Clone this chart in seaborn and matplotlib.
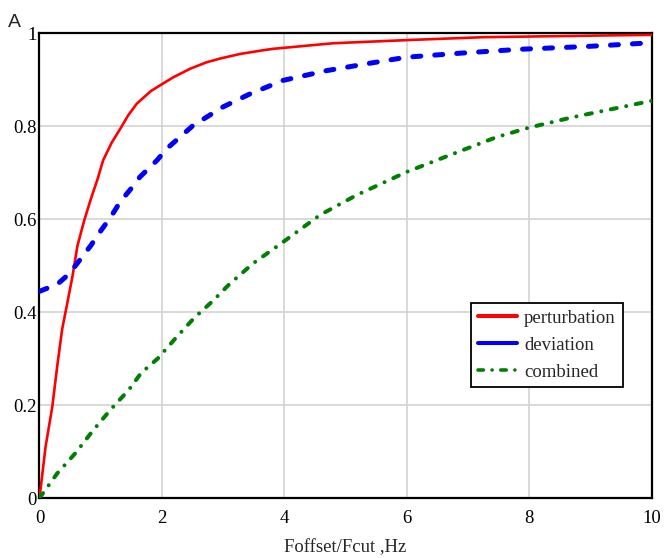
import matplotlib
matplotlib.use("Agg")
from matplotlib import pyplot as plt
from matplotlib.ticker import FuncFormatter
import seaborn as sns

# values
pert_x = [0, 0.1, 0.21, 0.29, 0.37, 0.44, 0.54, 0.62, 0.73, 0.84, 0.95, 1.04, 1.18,
          1.32, 1.45, 1.59, 1.82, 1.99, 2.19, 2.46, 2.73, 2.95, 3.28, 3.66, 3.82,
          4.8, 6.05, 7.25, 9.37, 10]
pert_y = [0, 0.111, 0.197, 0.284, 0.363, 0.41, 0.478, 0.543, 0.597, 0.644, 0.687,
          0.727, 0.765, 0.795, 0.824, 0.849, 0.876, 0.89, 0.906, 0.924, 0.938, 0.946,
          0.956, 0.964, 0.967, 0.979, 0.986, 0.992, 0.996, 0.997]

dev_x = [0, 0.29, 0.48, 0.645, 0.836, 1.0, 1.16, 1.32, 1.49, 1.64, 1.92, 2.08, 2.51,
         3.0, 3.44, 3.98, 4.69, 5.4, 6.0, 6.92, 7.85, 8.94, 10]
dev_y = [0.445, 0.46, 0.482, 0.51, 0.543, 0.575, 0.604, 0.638, 0.665, 0.691, 0.727,
         0.752, 0.802, 0.842, 0.87, 0.899, 0.92, 0.936, 0.949, 0.958, 0.966, 0.972, 0.98]

comb_x = [0, 0.29, 0.59, 0.86, 1.16, 1.46, 1.66, 1.93, 2.23, 2.53, 2.83, 3.1, 3.49,
          3.98, 4.58, 5.18, 6.0, 6.76, 7.47, 7.99, 8.72, 9.38, 10]
comb_y = [0, 0.053, 0.097, 0.143, 0.19, 0.233, 0.269, 0.30, 0.345, 0.388, 0.424, 0.46,
          0.505, 0.551, 0.609, 0.652, 0.702, 0.741, 0.777, 0.797, 0.82, 0.838, 0.855]

x_ticks = [0, 2, 4, 6, 8, 10]
y_ticks = [0, 0.2, 0.4, 0.6, 0.8, 1.0]

sns.set_style("white")
plt.rcParams['font.family'] = ['Liberation Serif', 'DejaVu Serif']

fig = plt.figure(figsize=(6.67, 5.58), dpi=100)
ax = fig.add_axes([0.0592, 0.1075, 0.9176, 0.8325])

sns.lineplot(x=pert_x, y=pert_y, ax=ax, color='#ff0000', lw=1.9,
             label='perturbation', zorder=3)
sns.lineplot(x=dev_x, y=dev_y, ax=ax, color='#0000ff', lw=3.6,
             linestyle=(0, (1.6, 2.8)), dash_capstyle='round',
             label='deviation', zorder=3)
sns.lineplot(x=comb_x, y=comb_y, ax=ax, color='#008000', lw=2.9,
             linestyle=(0, (1.5, 2.4, 0.01, 2.4)), dash_capstyle='round',
             label='combined', zorder=3)

ax.set_xlim(0, 10)
ax.set_ylim(0, 1)
ax.set_xticks(x_ticks)
ax.set_yticks(y_ticks)
ax.xaxis.set_major_formatter(FuncFormatter(lambda v, p: '%g' % v))
ax.yaxis.set_major_formatter(FuncFormatter(lambda v, p: '%g' % v))
ax.tick_params(axis='both', length=0, labelsize=13.5, colors='black')
ax.tick_params(axis='x', pad=8.5)
ax.tick_params(axis='y', pad=2)

ax.grid(True, color='#d0d0d0', lw=1.1, zorder=0)
ax.set_axisbelow(True)
for s in ax.spines.values():
    s.set_color('black')
    s.set_linewidth(1.6)

ax.set_xlabel('Foffset/Fcut ,Hz', fontsize=13.5, labelpad=9)
ax.set_ylabel('')
fig.text(0.012, 0.952, 'A', fontsize=14, family=['Liberation Sans', 'DejaVu Sans'],
         ha='left', va='baseline')

leg = ax.legend(loc='upper left', bbox_to_anchor=(0.705, 0.42), borderaxespad=0,
                fontsize=13.5, frameon=True, fancybox=False, framealpha=1,
                edgecolor='black', handlelength=2.1, handletextpad=0.37,
                labelspacing=0.52, borderpad=0.36)
leg.get_frame().set_linewidth(1.3)
hl = leg.get_lines()
hl[0].set_linewidth(2.9)
hl[1].set_linestyle('-')
hl[1].set_linewidth(2.9)
hl[2].set_linewidth(2.6)

fig.savefig('out.png', dpi=100)
